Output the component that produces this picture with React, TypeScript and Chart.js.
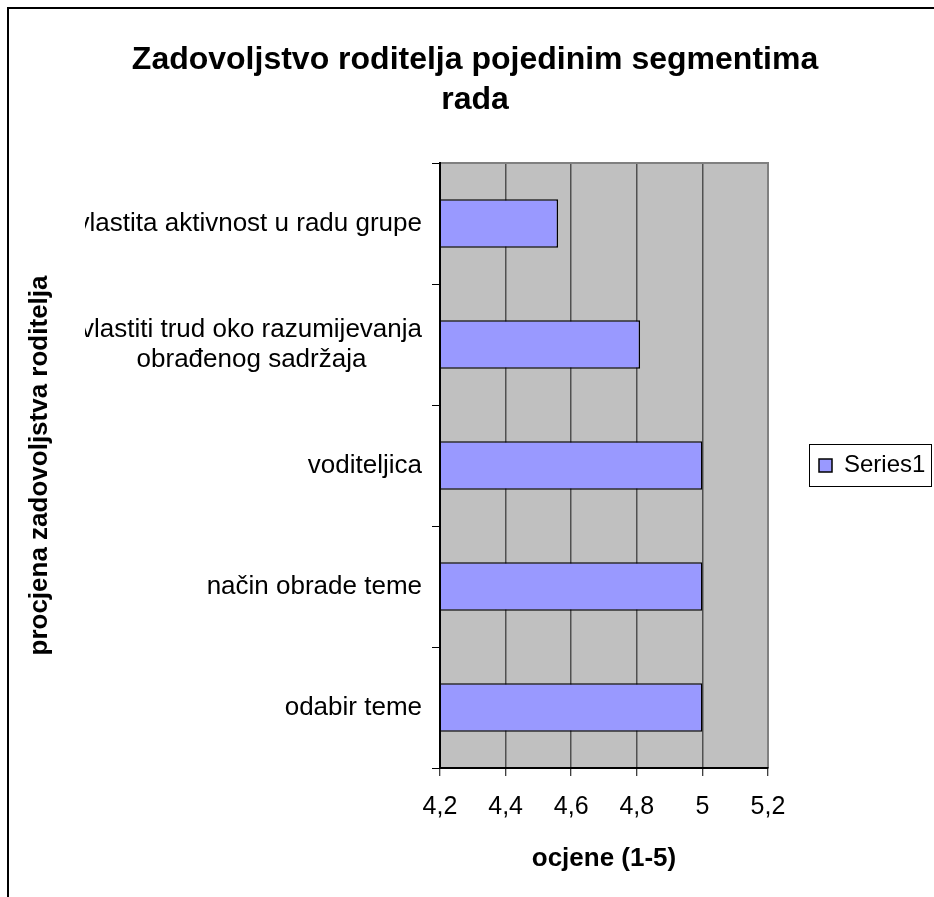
import React, { useEffect, useRef } from "react";
import { Chart, registerables } from "chart.js";

Chart.register(...registerables);

const TITLE_LINES = ["Zadovoljstvo roditelja pojedinim segmentima", "rada"];
const CATEGORIES: string[][] = [
  ["vlastita aktivnost u radu grupe"],
  ["vlastiti trud oko razumijevanja", "obrađenog sadržaja"],
  ["voditeljica"],
  ["način obrade teme"],
  ["odabir teme"],
];
const SERIES_NAME = "Series1";
const VALUES = [4.56, 4.81, 5, 5, 5];
const X_TICK_LABELS = ["4,2", "4,4", "4,6", "4,8", "5", "5,2"];
const X_MIN = 4.2;
const X_MAX = 5.2;
const X_STEP = 0.2;
const X_TITLE = "ocjene (1-5)";
const Y_TITLE = "procjena zadovoljstva roditelja";

const FONT = "'Liberation Sans', Arial, Helvetica, sans-serif";
const W = 934;
const H = 897;

const decorPlugin = {
  id: "decor",
  beforeDraw(chart: any) {
    const { ctx, chartArea: a } = chart;
    ctx.save();
    ctx.fillStyle = "#ffffff";
    ctx.fillRect(0, 0, chart.width, chart.height);
    ctx.fillStyle = "#C0C0C0";
    ctx.fillRect(a.left, a.top, a.right - a.left, a.bottom - a.top);
    ctx.restore();
  },
  beforeDatasetsDraw(chart: any) {
    const { ctx, chartArea: a } = chart;
    ctx.save();
    ctx.strokeStyle = "#808080";
    ctx.lineWidth = 2;
    ctx.beginPath();
    ctx.moveTo(a.left, a.top);
    ctx.lineTo(a.right, a.top);
    ctx.lineTo(a.right, a.bottom);
    ctx.stroke();
    ctx.restore();
  },
  afterDraw(chart: any) {
    const { ctx } = chart;
    const yScale = chart.scales.y;
    // category labels
    ctx.save();
    ctx.beginPath();
    ctx.rect(85, 0, chart.width - 85, chart.height);
    ctx.clip();
    ctx.font = `26px ${FONT}`;
    ctx.fillStyle = "#000";
    ctx.textAlign = "center";
    ctx.textBaseline = "middle";
    const lineH = 30;
    const rightEdge = yScale.right - 18;
    CATEGORIES.forEach((lines, i) => {
      const y = yScale.getPixelForTick(i);
      const bw = Math.max(...lines.map((l) => ctx.measureText(l).width));
      const cx = rightEdge - bw / 2;
      const y0 = y - ((lines.length - 1) * lineH) / 2;
      lines.forEach((l, j) => ctx.fillText(l, cx, y0 + j * lineH));
    });
    ctx.restore();

    // legend frame
    const lg = chart.legend;
    if (lg && lg.legendHitBoxes && lg.legendHitBoxes[0]) {
      const hb = lg.legendHitBoxes[0];
      ctx.save();
      ctx.strokeStyle = "#000";
      ctx.lineWidth = 1;
      ctx.strokeRect(
        Math.round(hb.left - 10) + 0.5,
        Math.round(hb.top - 10) + 0.5,
        Math.round(hb.width + 16),
        Math.round(hb.height + 18)
      );
      ctx.restore();
    }

    // outer frame
    ctx.save();
    ctx.strokeStyle = "#000";
    ctx.lineWidth = 2;
    ctx.beginPath();
    ctx.moveTo(8, chart.height + 2);
    ctx.lineTo(8, 8);
    ctx.lineTo(chart.width + 2, 8);
    ctx.stroke();
    ctx.restore();
  },
};

export default function App() {
  const ref = useRef<HTMLCanvasElement | null>(null);

  useEffect(() => {
    if (!ref.current) return;
    const chart = new Chart(ref.current, {
      type: "bar",
      data: {
        labels: CATEGORIES,
        datasets: [
          {
            label: SERIES_NAME,
            data: VALUES,
            backgroundColor: "#9999FF",
            borderColor: "#000000",
            borderWidth: 1.5,
            barPercentage: 0.4,
            categoryPercentage: 1,
            borderSkipped: "start",
          },
        ],
      },
      options: {
        indexAxis: "y",
        responsive: false,
        animation: false,
        devicePixelRatio: 1,
        layout: { padding: { left: 24, right: 8, top: 0, bottom: 0 } },
        scales: {
          x: {
            type: "linear",
            min: X_MIN,
            max: X_MAX,
            ticks: {
              stepSize: X_STEP,
              autoSkip: false,
              maxRotation: 0,
              color: "#000",
              padding: 16,
              font: { family: FONT, size: 25 },
              callback: (v: any) => X_TICK_LABELS[Math.round((Number(v) - X_MIN) / X_STEP)] ?? "",
            },
            grid: {
              color: "#505050",
              lineWidth: 1.5,
              tickColor: "#000",
              tickLength: 8,
              tickWidth: 1,
            },
            border: { color: "#000", width: 2, z: 1 },
            title: {
              display: true,
              text: X_TITLE,
              color: "#000",
              font: { family: FONT, size: 26, weight: "bold" },
              padding: { top: 0, bottom: 23 },
            },
            afterFit: (s: any) => {
              s.height = 129;
            },
          },
          y: {
            type: "category",
            offset: true,
            ticks: { display: false },
            grid: {
              drawOnChartArea: false,
              offset: true,
              tickColor: "#000",
              tickLength: 8,
              tickWidth: 1,
            },
            border: { color: "#000", width: 2, z: 1 },
            title: {
              display: true,
              text: Y_TITLE,
              color: "#000",
              font: { family: FONT, size: 26, weight: "bold" },
              padding: { top: 0, bottom: 0 },
            },
            afterFit: (s: any) => {
              s.width = 416;
            },
          },
        },
        plugins: {
          title: {
            display: true,
            text: TITLE_LINES,
            color: "#000",
            font: { family: FONT, size: 32, weight: "bold", lineHeight: 1.25 },
            padding: { top: 40, bottom: 43 },
          },
          legend: {
            display: true,
            position: "right",
            fullSize: false,
            maxWidth: 158,
            labels: {
              color: "#000",
              font: { family: FONT, size: 24 },
              boxWidth: 13,
              boxHeight: 13,
              padding: 51,
            },
          },
          tooltip: { enabled: false },
        },
      },
      plugins: [decorPlugin],
    } as any);
    return () => chart.destroy();
  }, []);

  return (
    <div style={{ position: "absolute", left: 0, top: 0, width: W, height: H }}>
      <canvas ref={ref} width={W} height={H} style={{ display: "block" }} />
    </div>
  );
}
